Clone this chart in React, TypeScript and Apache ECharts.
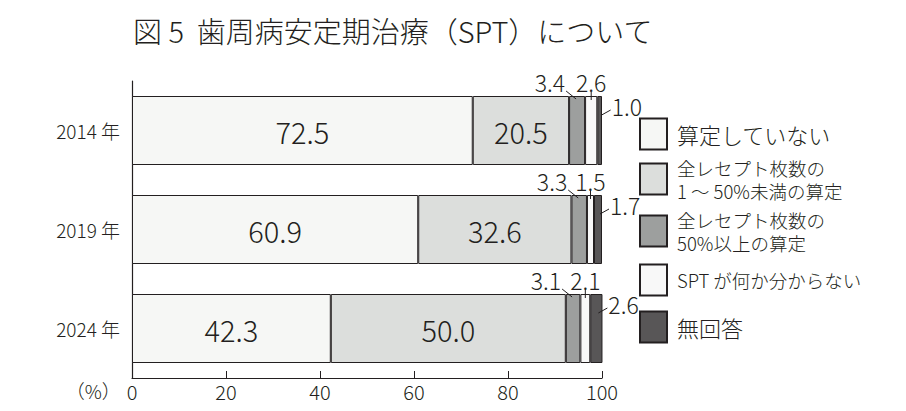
import React, { useEffect, useRef } from "react";
import * as echarts from "echarts";

const years = ["2014 年", "2019 年", "2024 年"];
const seriesNames = [
  "算定していない",
  "全レセプト枚数の\n1 ～ 50%未満の算定",
  "全レセプト枚数の\n50%以上の算定",
  "SPT が何か分からない",
  "無回答",
];
const notCalculated = [72.5, 60.9, 42.3];
const under50 = [20.5, 32.6, 50.0];
const over50 = [3.4, 3.3, 3.1];
const unknown = [2.6, 1.5, 2.1];
const noAnswer = [1.0, 1.7, 2.6];
const xTicks = [0, 20, 40, 60, 80, 100];

const allValues = [notCalculated, under50, over50, unknown, noAnswer];
const colors = ["#f6f7f5", "#dcdedc", "#9d9f9e", "#f8f8f8", "#585657"];
const INK = "#231f20";
const FONT = "'Noto Sans CJK JP', sans-serif";
const FW = 300;
const BAR_W = 69;

export default function App() {
  const ref = useRef<HTMLDivElement>(null);
  useEffect(() => {
    if (!ref.current) return;
    const chart = echarts.init(ref.current, undefined, { renderer: "svg" });

    // callout data for small segments (series 2..4)
    const callouts: number[][] = [];
    years.forEach((_, i) => {
      let start = 0;
      allValues.forEach((arr, s) => {
        const v = arr[i];
        if (s >= 2) callouts.push([start + v / 2, i, v, s]);
        start += v;
      });
    });

    const barSeries = allValues.map((arr, s) => ({
      type: "bar",
      name: seriesNames[s],
      stack: "total",
      barWidth: BAR_W,
      data: arr,
      itemStyle: { color: colors[s], borderColor: INK, borderWidth: 1 },
      label: {
        show: s < 2,
        position: "inside",
        fontSize: 29,
        fontFamily: FONT,
        fontWeight: FW,
        color: INK,
        formatter: (p: any) => Number(p.value).toFixed(1),
      },
      emphasis: { disabled: true },
    }));

    const legendCenters = [133, 179, 231, 279, 326];
    const legendFont = [22, 18.5, 18.5, 18.5, 22];
    const legendLH = [26, 23, 23, 23, 26];
    const legends = seriesNames.map((n, i) => {
      const lines = n.split("\n").length;
      const h = Math.max(31, lines * legendLH[i]);
      return {
        data: [n],
        orient: "vertical",
        left: 639,
        top: legendCenters[i] - h / 2,
        padding: 0,
        itemWidth: 27,
        itemHeight: 31,
        icon: "rect",
        selectedMode: false,
        textStyle: {
          fontSize: legendFont[i],
          lineHeight: legendLH[i],
          fontFamily: FONT,
          fontWeight: FW,
          color: INK,
          padding: [0, 0, 0, 5],
        },
      };
    });

    chart.setOption({
      animation: false,
      title: {
        text: "図 5  歯周病安定期治療（SPT）について",
        left: 128,
        top: 10,
        textStyle: { fontSize: 29, fontWeight: FW, color: INK, fontFamily: FONT },
      },
      legend: legends,
      grid: { left: 132, right: 304, top: 81, bottom: 33 },
      xAxis: {
        type: "value",
        min: 0,
        max: 100,
        interval: 20,
        name: "（%）",
        nameLocation: "start",
        nameGap: 8,
        nameTextStyle: {
          fontSize: 19,
          fontFamily: FONT,
          fontWeight: FW,
          color: INK,
          align: "right",
          verticalAlign: "top",
          padding: [3, 0, 0, 0],
        },
        splitLine: { show: false },
        axisLine: { show: true, lineStyle: { color: INK, width: 1.2 } },
        axisTick: { show: true, inside: true, length: 7, lineStyle: { color: INK } },
        axisLabel: {
          fontSize: 20,
          fontFamily: FONT,
          fontWeight: FW,
          color: INK,
          margin: 3,
          formatter: (v: number) => (xTicks.includes(v) ? String(v) : ""),
        },
      },
      yAxis: {
        type: "category",
        data: years,
        inverse: true,
        axisLine: { show: true, lineStyle: { color: INK, width: 1.2 } },
        axisTick: { show: false },
        axisLabel: { fontSize: 19, fontFamily: FONT, fontWeight: FW, color: INK, margin: 12 },
      },
      series: [
        ...barSeries,
        {
          type: "custom",
          name: "callouts",
          data: callouts,
          encode: { x: 0, y: 1 },
          z: 10,
          silent: true,
          renderItem: (params: any, api: any) => {
            const s = api.value(3);
            const v = api.value(2);
            const p = api.coord([api.value(0), api.value(1)]);
            const x = p[0];
            const top = p[1] - BAR_W / 2;
            let l: number[];
            let tx: number, ty: number, align: string;
            if (s === 2) {
              l = [x - 1, top + 3, x - 11, top - 5];
              tx = x - 12; ty = top - 14; align = "right";
            } else if (s === 3) {
              l = [x, top + 4, x, top - 4];
              tx = x; ty = top - 14; align = "center";
            } else {
              l = [x + 2, top + 19, x + 11, top + 14];
              tx = x + 12; ty = top + 10; align = "left";
            }
            return {
              type: "group",
              children: [
                { type: "line", shape: { x1: l[0], y1: l[1], x2: l[2], y2: l[3] }, style: { stroke: INK, lineWidth: 1 } },
                {
                  type: "text",
                  x: tx,
                  y: ty,
                  style: {
                    text: Number(v).toFixed(1),
                    fontSize: 23,
                    fontFamily: FONT,
                    fontWeight: FW,
                    fill: INK,
                    textAlign: align,
                    textVerticalAlign: "middle",
                  },
                },
              ],
            };
          },
        },
      ],
    });
    return () => chart.dispose();
  }, []);
  return <div ref={ref} style={{ position: "fixed", left: 0, top: 0, width: 906, height: 411, background: "#fff" }} />;
}
